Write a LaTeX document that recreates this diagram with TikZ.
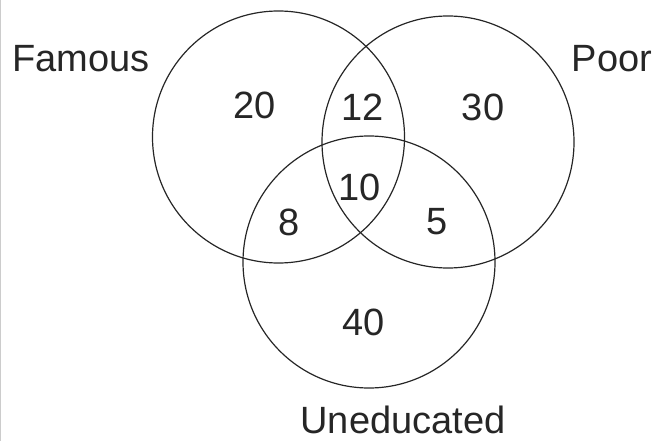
\documentclass[tikz,border=0pt]{standalone}
\usepackage{fontspec}
\setmainfont{Liberation Sans}
\usepackage{tikz}

\tikzset{
  setcircle/.style={draw=black!85,line width=1.2pt},
  setlabel/.style={font=\fontsize{38}{42}\selectfont,text=black!85},
  setcount/.style={font=\fontsize{38}{42}\selectfont,text=black!85}
}

\begin{document}
\begin{tikzpicture}[line cap=round,line join=round,x=1pt,y=-1pt]
\useasboundingbox (0,0) rectangle (658,441);
\draw[black!20,line width=1pt] (0.5,0) -- (0.5,441);
\node[setcircle,circle,minimum size=252pt,inner sep=0pt] (famous) at (278.5,137) {};
\node[setcircle,circle,minimum size=252pt,inner sep=0pt] (poor) at (448,142) {};
\node[setcircle,circle,minimum size=252pt,inner sep=0pt] (uneducated) at (369,262) {};
\node[setlabel] (famouslabel) at (81,59) {Famous};
\node[setlabel] (poorlabel) at (612,59) {Poor};
\node[setlabel] (uneducatedlabel) at (403,420) {Uneducated};
\node[setcount] (fonly) at (255,105) {20};
\node[setcount] (fp) at (363,107) {12};
\node[setcount] (ponly) at (483,107) {30};
\node[setcount] (fpu) at (360,187) {10};
\node[setcount] (fu) at (289,222) {8};
\node[setcount] (pu) at (437,222) {5};
\node[setcount] (uonly) at (364,322) {40};
\end{tikzpicture}
\end{document}
